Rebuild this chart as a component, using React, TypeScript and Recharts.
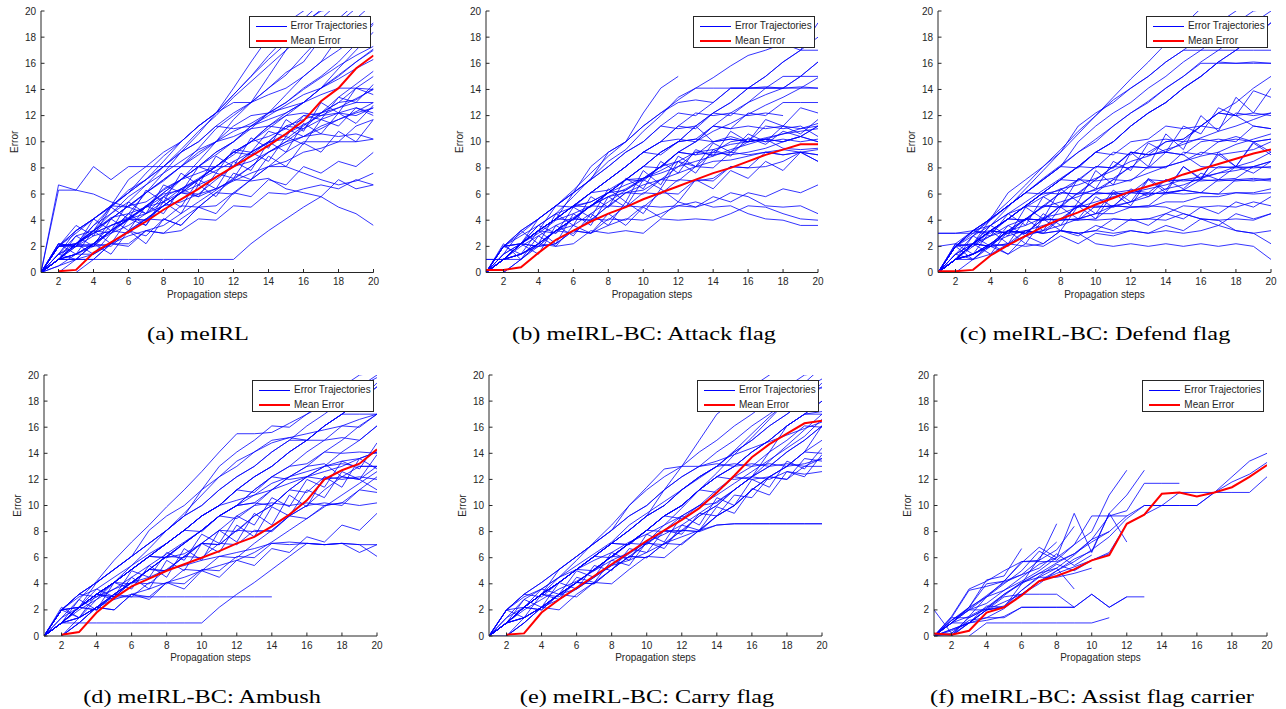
import React from 'react';
import { LineChart, Line, XAxis, YAxis, Legend } from 'recharts';

const N = null;
const steps = [1, 2, 3, 4, 5, 6, 7, 8, 9, 10, 11, 12, 13, 14, 15, 16, 17, 18, 19, 20];
const xTicks = [2, 4, 6, 8, 10, 12, 14, 16, 18, 20];
const yTicks = [0, 2, 4, 6, 8, 10, 12, 14, 16, 18, 20];
const legendLabels = ['Error Trajectories', 'Mean Error'];
const xLabel = 'Propagation steps';
const yLabel = 'Error';
const captions = [
  '(a) meIRL',
  '(b) meIRL-BC: Attack flag',
  '(c) meIRL-BC: Defend flag',
  '(d) meIRL-BC: Ambush',
  '(e) meIRL-BC: Carry flag',
  '(f) meIRL-BC: Assist flag carrier',
];

type S = (number | null)[];

// (a) meIRL
const meanA: S = [N, 0.1, 0.2, 1.5, 2.3, 3.1, 3.9, 4.8, 5.6, 6.4, 7.3, 8.1, 8.9, 9.7, 10.6, 11.6, 13.1, 14.1, 15.6, 16.6];
const trajA: S[] = [
  [0, 6.7, 6.3, 6.0, 5.4, 5.0, 4.5, 5.8, 7.1, 8.1, 9.2, 10.0, 11.2, 12.0, 12.8, 13.6, 14.1, 14.8, 15.6, 16.3],
  [0, 6.3, 6.3, 8.1, 7.1, 8.1, 8.1, 8.1, 8.1, 8.1, 9.0, 10.0, 11.0, 12.2, 13.0, 14.1, 15.0, 16.1, 17.5, 19.0],
  [0, 2.0, 2.0, 2.0, 3.2, 4.0, 5.0, 6.4, 7.1, 8.5, 10.0, 11.7, 13.0, 14.1, 15.3, 16.1, 17.9, 19.1, 20.2, 21],
  [0, 1.0, 1.0, 1.0, 1.0, 1.0, 1.0, 1.0, 1.0, 1.0, 1.0, 1.0, 2.2, 3.2, 4.1, 5.0, 5.8, 7.1, 6.4, 6.7],
  [0, 1.4, 2.2, 3.2, 4.1, 5.1, 6.1, 7.1, 8.1, 9.5, 11.0, 12.0, 13.0, 14.1, 15.1, 16.6, 18.0, 19.4, 20.6, 21],
  [0, 1.0, 2.2, 3.6, 5.0, 6.1, 7.6, 8.9, 10.0, 11.2, 12.2, 13.6, 15.0, 16.3, 17.5, 19.0, 20.1, 21, 21, 21],
  [0, 0.5, 1.4, 2.2, 3.6, 4.1, 4.5, 5.1, 5.4, 6.0, 6.4, 7.0, 7.6, 8.1, 8.1, 7.6, 7.1, 6.7, 7.0, 7.6],
  [0, 1.0, 1.4, 2.2, 2.0, 3.2, 2.8, 4.1, 3.6, 5.0, 5.1, 6.1, 7.1, 8.1, 9.2, 10.0, 10.0, 10.0, 10.0, 10.2],
  [0, 1.0, 2.2, 3.0, 3.6, 4.1, 5.1, 6.1, 7.1, 7.6, 8.1, 9.2, 10.0, 10.4, 11.0, 12.0, 12.2, 12.6, 13.0, 13.0],
  [0, 2.0, 3.2, 4.1, 5.0, 6.3, 7.1, 8.1, 9.2, 10.0, 11.2, 11.0, 11.2, 11.7, 12.2, 13.0, 14.1, 15.0, 16.1, 17.0],
  [0, 1.0, 1.4, 2.0, 2.2, 3.2, 4.1, 5.1, 6.1, 5.8, 6.4, 7.1, 7.0, 7.2, 6.4, 6.1, 5.8, 5.0, 4.5, 3.6],
  [0, 0, 1.0, 2.2, 3.2, 4.5, 6.1, 7.6, 9.2, 10.6, 12.2, 13.6, 15.0, 16.6, 18.0, 19.4, 20.6, 21, 21, 21],
  [0, 1.4, 2.0, 2.8, 3.2, 4.1, 5.1, 6.0, 6.3, 7.1, 8.1, 9.2, 10.0, 11.2, 12.0, 12.2, 12.0, 12.2, 12.6, 12.0],
  [0, 2.0, 2.2, 3.2, 4.1, 5.1, 5.4, 6.3, 7.1, 8.1, 9.2, 10.0, 11.2, 12.2, 13.6, 15.0, 16.1, 17.0, 18.0, 19.1],
  [0, 1.0, 1.0, 1.4, 2.2, 2.8, 3.2, 3.0, 4.1, 5.0, 6.1, 7.1, 8.1, 9.2, 10.0, 10.4, 11.2, 11.7, 12.2, 12.6],
  [0, 0.5, 1.0, 2.2, 3.2, 4.1, 5.0, 6.1, 7.1, 8.1, 8.1, 8.1, 9.2, 10.0, 11.2, 11.7, 12.2, 13.0, 14.1, 14.0],
  [0, 1.0, 2.2, 3.0, 4.1, 5.1, 6.1, 7.0, 8.1, 9.2, 10.0, 11.2, 12.0, 12.2, 12.6, 13.0, 13.6, 14.1, 14.1, 15.0],
  [0, 2.0, 3.0, 4.1, 5.1, 5.0, 6.1, 7.1, 8.1, 9.0, 10.0, 10.4, 11.0, 11.2, 11.0, 10.4, 10.6, 10.4, 10.6, 10.2],
  [0, 1.0, 1.0, 1.0, 2.2, 2.0, 3.2, 3.0, 3.2, 4.1, 4.0, 5.1, 5.0, 6.1, 6.0, 6.4, 6.7, 6.4, 7.1, 6.7],
  [0, 1.0, 2.2, 2.0, 3.2, 4.1, 4.0, 5.1, 6.1, 7.1, 8.1, 9.2, 10.0, 11.2, 12.2, 13.0, 14.1, 15.6, 17.0, 18.4],
  [0, 1.4, 3.2, 4.1, 5.1, 6.1, 7.1, 8.5, 10.0, 11.2, 12.2, 13.0, 13.0, 13.6, 14.1, 15.0, 16.1, 18.0, 19.4, 20.6],
  [0, 1.0, 1.4, 2.2, 3.2, 3.0, 4.1, 4.0, 5.1, 5.0, 6.1, 6.0, 7.1, 8.1, 8.5, 9.2, 9.5, 10.0, 11.2, 11.7],
  [0, 0, 0, 1.0, 2.2, 3.2, 4.1, 5.1, 6.1, 7.1, 8.1, 9.2, 9.0, 10.0, 10.2, 11.2, 12.2, 13.0, 13.2, 14.1],
  [0, 2.0, 2.2, 3.2, 3.0, 4.1, 4.0, 5.1, 6.1, 6.0, 7.1, 8.1, 9.2, 10.0, 11.2, 11.0, 11.7, 12.2, 12.0, 12.6],
  [0, 1.0, 2.2, 3.2, 5.1, 7.1, 8.1, 9.2, 10.0, 11.2, 12.2, 14.1, 16.1, 18.0, 19.1, 20.0, 21, 21, 21, 21],
  [0, 2.0, 3.2, 4.1, 5.1, 6.1, 7.1, 8.1, 9.2, 10.0, 11.2, 12.2, 13.0, 15.0, 17.0, 19.1, 20.0, 20.2, 21, 21],
  [0, 1.0, 2.0, 2.2, 3.0, 3.6, 4.5, 5.4, 6.4, 7.2, 8.1, 9.0, 10.0, 11.0, 12.0, 13.0, 14.1, 15.1, 16.1, 17.1],
  [0, 2.2, 2.0, 3.6, 4.5, 5.8, 6.7, 7.6, 8.5, 9.4, 10.0, 10.8, 11.4, 12.2, 13.0, 14.0, 14.9, 15.8, 16.6, 17.3],
  [0, 1.0, 1.4, 1.4, 2.2, 2.2, 3.2, 3.6, 4.5, 5.4, 6.3, 7.2, 8.1, 9.2, 10.0, 11.0, 12.2, 13.4, 14.4, 15.4],
  [0, 1.4, 2.8, 3.2, 4.2, 4.5, 5.0, 5.8, 6.4, 7.1, 7.8, 8.5, 9.2, 9.9, 10.6, 11.3, 12.0, 12.6, 13.3, 14.0],
  [0, 2.0, 2.2, 3.0, 3.6, 4.2, 5.0, 5.4, 6.1, 6.7, 7.3, 8.1, 8.5, 9.2, 9.8, 10.4, 11.0, 11.7, 12.3, 13.0],
  [0, 1.0, 2.0, 3.2, 4.5, 5.4, 6.7, 8.1, 9.4, 10.8, 12.0, 13.4, 14.6, 15.8, 17.0, 18.2, 19.4, 20.6, 21, 21],
  [0, 2.2, 1.4, 3.2, 2.2, 4.1, 3.6, 5.4, 4.5, 6.7, 5.8, 7.6, 7.1, 8.9, 8.1, 9.9, 9.2, 10.8, 10.0, 11.7],
  [0, 1.0, 2.8, 2.0, 4.1, 3.2, 5.1, 4.5, 6.4, 5.8, 7.6, 7.2, 9.2, 8.5, 10.4, 9.8, 11.7, 11.2, 12.6, 12.2],
  [0, 1.4, 1.0, 2.2, 1.4, 3.2, 2.2, 4.1, 3.6, 5.0, 4.5, 6.1, 5.8, 7.1, 6.7, 8.1, 7.6, 8.5, 8.1, 9.2],
  [0, 2.0, 3.6, 2.8, 5.0, 4.1, 6.3, 5.4, 7.6, 6.7, 8.9, 8.1, 10.3, 9.5, 11.7, 10.8, 13.0, 12.2, 14.1, 13.6],
  [0, 1.0, 2.2, 1.4, 3.0, 4.5, 3.6, 5.8, 5.0, 7.1, 6.4, 8.5, 7.8, 10.0, 9.2, 11.4, 10.6, 12.2, 11.4, 12.8],
  [0, 2.2, 2.0, 4.1, 3.2, 5.4, 4.5, 6.7, 6.1, 8.1, 7.6, 9.4, 9.2, 10.8, 10.4, 12.0, 11.7, 13.4, 13.0, 14.4],
];

// (b) Attack flag
const meanB: S = [0.2, 0.2, 0.4, 1.5, 2.5, 3.2, 3.9, 4.5, 5.0, 5.6, 6.1, 6.6, 7.1, 7.6, 8.0, 8.5, 9.0, 9.4, 9.8, 9.8];
const trajB: S[] = [
  [0, 1.0, 2.2, 3.2, 4.1, 5.1, 6.1, 7.1, 8.1, 9.2, 10.0, 11.2, 11.0, 12.2, 12.0, 13.0, 13.6, 14.1, 14.1, 14.1],
  [0, 1.0, 1.4, 2.2, 3.2, 4.1, 5.1, 6.1, 7.1, 8.1, 9.2, 10.0, 10.2, 10.0, 10.4, 10.0, 10.2, 10.0, 10.4, 10.0],
  [0, 2.0, 2.2, 3.2, 4.1, 5.1, 6.1, 6.3, 7.1, 7.2, 8.1, 8.5, 8.1, 9.2, 9.0, 9.2, 9.5, 10.0, 10.4, 11.2],
  [1, 1.0, 1.0, 2.0, 2.2, 3.2, 3.0, 4.1, 4.0, 5.1, 5.0, 5.1, 5.4, 5.0, 5.1, 4.5, 4.1, 4.0, 3.6, 3.6],
  [0, 1.0, 2.2, 3.2, 5.1, 6.1, 7.1, 9.2, 10.0, 11.2, 12.2, 13.0, 13.2, 13.0, 14.1, 14.1, 14.2, 14.1, 15.0, 16.1],
  [0, 0, 1.0, 2.2, 3.2, 4.1, 5.1, 6.1, 7.1, 8.1, 9.2, 10.0, 11.2, 12.2, 13.0, 14.1, 15.0, 16.1, 17.0, 19.1],
  [0, 1.0, 2.2, 2.0, 3.2, 3.0, 4.1, 4.0, 5.1, 5.0, 6.1, 6.0, 7.1, 7.0, 8.1, 8.0, 9.2, 9.0, 9.2, 8.5],
  [0, 2.0, 3.2, 4.1, 5.1, 6.1, 7.1, 8.1, 9.2, 10.0, 11.2, 11.0, 11.2, 10.0, 10.2, 10.0, 11.2, 11.0, 11.2, 10.4],
  [0, 1.0, 1.4, 2.0, 2.2, 3.2, 3.0, 3.6, 4.1, 4.0, 4.5, 5.1, 5.0, 5.4, 6.1, 5.8, 5.1, 5.0, 5.1, 4.5],
  [0, 1.0, 2.2, 3.2, 4.1, 4.0, 5.1, 5.0, 6.1, 6.3, 7.1, 8.1, 9.2, 9.0, 9.2, 10.0, 10.2, 10.0, 10.4, 10.0],
  [0, 2.0, 2.2, 3.2, 4.1, 5.1, 5.4, 6.1, 7.1, 8.1, 9.2, 10.0, 11.2, 12.2, 13.0, 14.1, 14.1, 15.0, 15.0, 16.1],
  [0, 1.0, 2.2, 3.2, 4.1, 6.1, 8.1, 9.2, 10.0, 12.2, 14.1, 15.0],
  [0, 1.0, 1.4, 2.2, 3.2, 4.1, 4.0, 5.1, 6.1, 6.0, 7.1, 7.0, 8.1, 8.0, 9.2, 9.0, 9.2, 9.0, 9.2, 9.0],
  [0, 0, 1.0, 2.2, 3.2, 4.1, 5.1, 6.1, 6.3, 7.1, 8.1, 9.2, 10.0, 11.2, 11.0, 12.2, 12.0, 13.0, 13.0, 13.0],
  [0, 1.0, 2.2, 2.0, 3.2, 4.1, 4.0, 5.1, 5.0, 6.1, 6.0, 7.1, 7.0, 7.2, 8.1, 8.0, 8.1, 8.5, 9.2, 9.0],
  [0, 2.0, 3.2, 4.1, 5.1, 5.0, 6.1, 7.1, 8.1, 9.2, 10.0, 10.2, 10.0, 11.2, 11.0, 11.2, 11.0, 11.2, 11.0, 11.2],
  [0, 1.0, 2.2, 3.2, 4.1, 5.1, 6.1, 7.1, 8.1, 9.2, 10.0, 11.2, 12.2, 12.0, 12.2, 12.0, 12.2, 12.0],
  [0, 1.0, 1.4, 2.2, 2.0, 2.2, 3.2, 3.0, 3.2, 3.0, 4.1, 4.0, 4.1, 4.0, 4.5, 5.1, 5.0, 4.5, 4.1, 4.0],
  [0, 1.0, 2.2, 4.1, 5.1, 6.1, 7.1, 8.1, 9.2, 10.0, 11.2, 12.2, 12.0, 13.0, 14.1, 14.1, 15.0, 16.1, 17.0, 18.0],
  [0, 1.0, 2.2, 3.2, 3.0, 4.1, 5.1, 6.1, 7.1, 8.1, 8.0, 9.2, 9.0, 10.0, 10.2, 10.0, 10.2, 9.5, 9.4, 9.5],
  [0, 2.0, 2.2, 3.2, 4.1, 5.1, 6.1, 7.1, 8.1, 9.2, 9.0, 10.0, 10.2, 11.2, 12.2, 13.0, 14.1, 14.1, 15.0, 15.0],
  [1, 1.0, 2.2, 3.2, 4.1, 5.1, 5.0, 6.1, 7.1, 7.0, 8.1, 9.2, 9.0, 9.2, 10.0, 10.2, 10.0, 10.2, 10.0, 10.2],
  [0, 1.4, 2.2, 3.6, 4.5, 5.8, 7.2, 8.5, 9.4, 10.8, 12.0, 13.4, 14.1, 14.1, 14.1, 14.1, 14.1, 14.1, 14.2, 14.1],
  [0, 1.0, 2.0, 2.8, 3.6, 4.2, 5.1, 5.8, 6.4, 7.2, 7.8, 8.5, 9.2, 9.4, 9.8, 10.0, 10.3, 10.6, 10.8, 11.0],
  [0, 2.0, 2.8, 3.6, 4.5, 5.0, 5.4, 6.1, 6.7, 7.2, 7.6, 8.1, 8.5, 8.9, 9.4, 9.8, 10.2, 10.6, 11.0, 11.4],
  [0, 1.0, 1.4, 2.2, 3.2, 3.6, 4.5, 5.4, 6.3, 7.2, 8.1, 9.2, 10.0, 10.8, 11.4, 12.1, 12.8, 13.4, 14.1, 14.9],
  [0, 1.0, 2.2, 3.0, 4.0, 4.5, 5.1, 5.8, 6.1, 6.7, 7.1, 7.6, 8.1, 8.5, 8.6, 8.9, 9.2, 9.4, 9.2, 9.4],
  [0, 2.0, 3.0, 4.1, 5.1, 6.3, 7.6, 8.9, 10.0, 11.2, 12.2, 13.2, 14.1, 14.9, 15.8, 16.6, 17.0, 17.5, 17.0, 17.0],
  [0, 1.4, 2.2, 1.4, 3.6, 2.8, 4.5, 3.6, 5.4, 4.5, 6.4, 5.4, 7.1, 6.4, 7.8, 7.2, 8.5, 7.8, 9.2, 8.5],
  [0, 2.0, 1.4, 3.2, 2.2, 4.5, 3.6, 5.8, 5.0, 7.1, 6.4, 8.5, 7.6, 9.4, 8.9, 10.3, 9.8, 10.8, 10.4, 11.2],
  [0, 1.0, 2.2, 3.6, 3.0, 5.0, 4.2, 6.4, 5.4, 7.8, 6.7, 8.9, 8.1, 9.9, 9.2, 10.6, 10.0, 11.2, 10.6, 11.7],
  [0, 2.2, 1.0, 2.8, 2.0, 3.6, 3.0, 4.5, 3.6, 5.0, 4.2, 5.4, 5.0, 5.8, 5.4, 6.1, 5.8, 6.4, 6.1, 6.7],
  [0, 1.4, 3.2, 2.2, 4.5, 3.6, 5.8, 5.0, 7.2, 6.4, 8.5, 7.6, 9.4, 8.9, 10.8, 10.0, 11.7, 11.2, 12.6, 12.2],
];

// (c) Defend flag
const meanC: S = [0.1, 0.1, 0.2, 1.3, 2.1, 2.8, 3.5, 4.1, 4.6, 5.2, 5.7, 6.2, 6.6, 7.0, 7.5, 7.9, 8.3, 8.7, 9.1, 9.4];
const trajC: S[] = [
  [0, 1.0, 2.2, 3.2, 4.1, 5.1, 6.1, 7.1, 8.1, 9.2, 10.0, 11.2, 12.2, 13.0, 14.1, 15.0, 16.1, 17.0, 18.0, 19.1],
  [0, 2.0, 3.2, 4.1, 5.1, 6.1, 7.1, 8.1, 9.2, 10.0, 11.2, 12.2, 13.0, 14.1, 15.0, 16.1, 17.0, 18.0, 19.1, 20.0],
  [0, 1.0, 1.4, 2.0, 2.2, 3.2, 3.0, 3.2, 3.0, 3.2, 3.0, 3.2, 3.0, 3.2, 3.0, 3.2, 3.6, 3.2, 3.0, 3.2],
  [0, 1.0, 2.2, 2.0, 3.2, 3.0, 4.1, 4.0, 5.1, 5.0, 5.1, 6.1, 6.0, 6.1, 6.3, 7.1, 7.0, 7.1, 7.2, 7.1],
  [0, 2.0, 2.2, 3.2, 4.1, 4.0, 5.1, 6.1, 6.0, 7.1, 8.1, 8.0, 9.2, 10.0, 10.2, 11.2, 12.2, 12.0, 12.2, 12.0],
  [0, 1.0, 1.4, 2.2, 3.2, 4.1, 5.1, 5.0, 6.1, 6.0, 6.1, 6.3, 6.1, 7.1, 7.0, 7.1, 8.1, 8.0, 8.1, 8.5],
  [0, 2.0, 3.2, 4.1, 6.1, 7.1, 8.1, 9.2, 11.2, 12.2, 13.0, 14.1, 15.0, 16.1, 17.0, 18.0, 19.1, 20.0, 21, 21],
  [0, 1.0, 2.2, 3.2, 3.0, 4.1, 4.0, 4.1, 5.1, 5.0, 5.1, 5.0, 5.1, 5.0, 4.5, 4.1, 4.0, 3.2, 3.0, 2.2],
  [0, 2.0, 2.2, 2.0, 3.2, 3.0, 4.1, 5.1, 5.0, 6.1, 7.1, 8.1, 8.0, 9.2, 10.0, 11.2, 12.2, 13.0, 14.1, 15.0],
  [0, 1.0, 2.2, 3.2, 4.1, 5.1, 6.1, 6.0, 7.1, 8.1, 8.0, 9.2, 9.0, 10.0, 10.2, 11.2, 11.0, 12.2, 12.0, 12.2],
  [0, 2.0, 3.2, 3.0, 4.1, 5.1, 6.1, 7.1, 8.1, 8.0, 9.2, 9.0, 10.0, 10.2, 10.0, 10.2, 10.0, 10.4, 10.0, 10.2],
  [0, 1.0, 1.0, 1.4, 2.2, 2.0, 2.2, 3.2, 3.0, 3.2, 4.1, 4.0, 4.1, 4.5, 5.1, 5.0, 5.1, 5.0, 5.4, 5.1],
  [0, 1.0, 2.2, 3.2, 4.1, 5.1, 6.1, 7.1, 8.1, 9.2, 10.0, 11.2, 12.2, 13.0, 14.1, 15.0, 16.1, 16.0, 16.1, 16.0],
  [3, 3.0, 3.0, 3.2, 3.0, 4.1, 4.0, 5.1, 5.0, 6.1, 6.0, 6.1, 7.1, 7.0, 7.1, 7.0, 7.1, 7.2, 8.1, 8.0],
  [0, 1.0, 2.2, 3.2, 4.1, 4.0, 5.1, 5.0, 5.1, 6.1, 6.0, 6.1, 6.0, 6.1, 6.3, 6.1, 6.0, 6.1, 6.0, 6.1],
  [0, 2.0, 3.2, 4.1, 5.1, 6.1, 7.1, 8.1, 8.0, 9.2, 9.0, 10.0, 10.2, 11.2, 11.0, 11.2, 12.2, 12.0, 11.2, 11.0],
  [0, 1.0, 1.4, 2.2, 3.2, 3.0, 4.1, 4.0, 4.1, 4.0, 4.1, 4.0, 4.1, 4.0, 4.5, 4.1, 4.0, 4.1, 4.0, 4.5],
  [3, 3.0, 3.2, 3.6, 4.5, 5.4, 6.3, 7.2, 8.1, 9.2, 10.0, 11.2, 12.2, 13.0, 14.1, 15.0, 16.1, 17.0, 18.0, 19.1],
  [0, 0, 1.0, 2.2, 3.2, 4.1, 4.0, 5.1, 6.1, 7.1, 8.1, 9.2, 9.0, 9.2, 9.0, 10.0, 10.2, 10.0, 11.2, 11.0],
  [0, 1.0, 2.2, 2.0, 3.2, 3.0, 3.2, 4.1, 4.0, 4.1, 5.1, 5.0, 5.1, 6.1, 6.0, 6.1, 7.1, 7.0, 7.1, 7.0],
  [2, 2.2, 2.0, 3.2, 3.0, 3.2, 3.0, 3.2, 3.0, 2.2, 2.0, 2.2, 2.0, 2.2, 2.0, 2.2, 2.0, 2.2, 2.0, 1.0],
  [0, 1.0, 2.2, 3.2, 4.1, 5.1, 6.1, 7.1, 7.0, 8.1, 8.0, 9.2, 9.0, 9.2, 9.0, 8.1, 8.0, 8.1, 8.0, 8.1],
  [0, 1.0, 2.2, 4.1, 5.1, 6.1, 7.1, 8.1, 10.0, 11.2, 12.2, 13.0, 14.1, 15.0, 16.1, 17.0, 18.0, 19.1, 20.0, 20.2],
  [0, 2.0, 3.2, 4.1, 5.1, 6.1, 6.0, 6.3, 7.1, 7.0, 7.2, 8.1, 8.0, 8.1, 8.5, 9.2, 9.0, 9.2, 9.4, 10.0],
  [0, 1.0, 1.4, 2.2, 2.0, 3.2, 3.0, 4.1, 4.0, 5.1, 5.0, 5.4, 6.1, 6.0, 6.3, 6.1, 6.0, 7.1, 7.0, 7.2],
  [0, 1.0, 2.2, 3.2, 4.1, 5.1, 5.0, 6.1, 6.0, 6.3, 7.1, 7.0, 8.1, 8.0, 9.2, 9.0, 10.0, 10.2, 10.0, 10.2],
  [0, 1.4, 2.8, 4.2, 5.4, 6.7, 8.1, 9.4, 10.8, 12.0, 13.2, 14.1, 15.0, 16.1, 17.0, 17.0, 17.0, 17.0, 17.0, 17.0],
  [0, 2.0, 2.8, 3.6, 4.5, 5.0, 5.8, 6.4, 6.7, 7.2, 7.8, 8.5, 8.9, 9.4, 9.8, 10.3, 10.8, 11.2, 11.7, 12.2],
  [0, 1.0, 2.0, 2.8, 3.2, 3.6, 4.2, 4.5, 5.0, 5.4, 5.8, 6.1, 6.4, 6.7, 7.1, 7.3, 7.6, 7.8, 8.1, 8.5],
  [0, 1.0, 1.4, 2.2, 2.8, 3.2, 3.6, 4.0, 4.1, 4.5, 4.5, 5.0, 5.0, 5.4, 5.4, 5.8, 5.8, 6.1, 6.1, 6.4],
  [0, 2.0, 3.0, 4.0, 5.1, 6.1, 7.2, 8.2, 9.2, 10.2, 11.2, 12.2, 13.1, 14.1, 15.0, 16.0, 16.0, 16.0, 16.0, 16.0],
  [0, 1.0, 2.2, 3.6, 5.0, 6.4, 7.8, 9.2, 10.6, 12.0, 13.4, 14.8, 16.1, 17.5, 18.9, 20.2, 21, 21, 21, 21],
  [0, 1.4, 2.2, 2.8, 3.6, 4.1, 5.0, 5.4, 5.8, 6.4, 6.7, 7.1, 7.6, 8.1, 8.5, 8.9, 9.2, 9.8, 10.2, 10.6],
  [0, 1.0, 1.4, 2.0, 2.2, 2.8, 3.2, 3.6, 4.1, 4.5, 5.1, 5.4, 5.8, 6.4, 6.7, 7.2, 7.6, 8.1, 8.5, 9.2],
  [0, 2.2, 1.4, 3.2, 2.2, 4.1, 3.2, 5.0, 4.1, 5.8, 5.0, 6.4, 5.8, 7.1, 6.4, 7.6, 7.1, 8.1, 7.6, 8.5],
  [0, 1.0, 2.8, 2.0, 3.6, 2.8, 4.5, 3.6, 5.4, 4.5, 6.3, 5.4, 7.2, 6.3, 8.1, 7.2, 9.0, 8.1, 9.9, 9.0],
  [0, 1.4, 2.2, 3.6, 2.8, 5.0, 4.1, 6.4, 5.4, 7.8, 6.7, 9.2, 8.1, 10.6, 9.4, 12.0, 10.8, 13.4, 12.2, 14.1],
  [0, 2.0, 1.0, 2.2, 1.4, 2.8, 2.2, 3.2, 2.8, 3.6, 3.2, 4.1, 3.6, 4.5, 4.1, 5.0, 4.5, 5.4, 5.0, 5.8],
  [0, 1.0, 2.2, 1.4, 3.2, 2.2, 4.1, 3.2, 5.1, 4.1, 6.1, 5.1, 7.1, 6.1, 8.1, 7.1, 9.2, 8.1, 10.0, 9.2],
  [0, 2.2, 3.2, 2.8, 4.5, 3.6, 5.8, 5.0, 7.2, 6.4, 8.5, 7.8, 9.9, 9.2, 11.2, 10.6, 12.6, 12.0, 13.9, 13.4],
  [0, 1.4, 1.0, 2.0, 1.4, 2.2, 2.0, 2.8, 2.2, 3.0, 2.8, 3.2, 3.0, 3.6, 3.2, 4.1, 3.6, 4.5, 4.1, 4.5],
];

// (d) Ambush
const meanD: S = [N, 0.1, 0.3, 1.8, 2.9, 3.8, 4.4, 5.0, 5.5, 6.0, 6.5, 7.1, 7.6, 8.4, 9.3, 10.4, 12.0, 12.7, 13.2, 14.3];
const trajD: S[] = [
  [0, 1.0, 2.2, 3.2, 4.1, 5.1, 6.1, 7.1, 8.1, 9.2, 10.0, 11.2, 12.2, 13.0, 14.1, 15.0, 16.1, 17.0, 18.0, 19.1],
  [0, 2.0, 3.2, 4.1, 5.1, 6.1, 7.1, 8.1, 9.2, 10.0, 11.2, 12.2, 13.0, 14.1, 15.0, 15.0, 15.0, 15.2, 15.0, 16.1],
  [N, 0, 1.0, 2.2, 3.0, 3.0, 3.0, 3.0, 3.0, 3.0, 3.0, 3.0, 3.0, 3.0],
  [0, 1.0, 1.0, 1.0, 1.0, 1.0, 1.0, 1.0, 1.0, 1.0, 2.2, 3.2, 4.1, 5.1, 6.1, 7.1, 7.0, 7.1, 6.4, 7.0],
  [0, 1.0, 2.2, 3.2, 4.1, 5.1, 6.1, 7.1, 8.1, 9.2, 10.0, 11.2, 12.2, 13.0, 14.1, 15.0, 16.1, 17.0, 18.0, 19.4],
  [0, 2.0, 2.2, 3.2, 4.1, 5.1, 6.1, 6.0, 7.1, 8.1, 9.2, 10.0, 11.2, 12.2, 13.0, 13.2, 14.1, 14.0, 14.1, 14.0],
  [N, 0, 1.0, 2.2, 3.2, 4.1, 5.1, 6.1, 7.1, 8.1, 9.2, 10.0, 10.2, 10.0, 11.2, 11.0, 12.2, 12.0, 12.2, 12.0],
  [0, 1.0, 2.2, 3.2, 3.0, 4.1, 5.1, 5.0, 6.1, 7.1, 7.0, 8.1, 9.2, 10.0, 11.2, 12.2, 13.0, 13.2, 13.0, 13.0],
  [0, 2.0, 3.2, 4.1, 5.1, 6.1, 8.1, 9.2, 10.0, 11.2, 12.2, 13.0, 14.1, 15.0, 15.2, 15.0, 16.1, 17.0, 18.0, 19.1],
  [0, 1.0, 2.2, 2.0, 3.2, 3.0, 4.1, 4.0, 5.1, 5.0, 6.1, 6.0, 7.1, 8.1, 9.2, 10.0, 10.2, 10.0, 11.2, 11.0],
  [0, 1.0, 2.2, 3.2, 4.1, 5.1, 6.1, 7.1, 8.1, 8.0, 9.2, 10.0, 10.2, 11.2, 12.2, 13.0, 14.1, 15.0, 16.1, 17.0],
  [0, 1.0, 1.4, 2.2, 2.0, 3.2, 3.0, 4.1, 4.0, 5.1, 5.0, 6.1, 6.0, 7.1, 7.0, 7.1, 7.0, 7.1, 7.0, 6.1],
  [0, 2.0, 3.2, 4.1, 5.1, 6.1, 7.1, 8.1, 9.2, 11.2, 13.0, 14.1, 15.0, 16.1, 16.0, 17.0, 18.0, 19.1, 20.0, 20.2],
  [N, 0, 1.0, 2.2, 3.2, 4.1, 4.0, 5.1, 6.1, 7.1, 8.1, 9.2, 10.0, 11.2, 12.2, 13.0, 13.2, 12.2, 12.0, 11.2],
  [0, 1.0, 2.2, 3.2, 4.1, 4.0, 5.1, 6.1, 6.0, 7.1, 8.1, 8.0, 9.2, 10.0, 11.2, 12.2, 13.0, 14.1, 15.0, 16.1],
  [0, 1.0, 2.2, 3.2, 4.1, 5.1, 6.1, 7.1, 8.1, 9.2, 10.0, 11.2, 12.2, 13.0, 14.1, 15.0, 16.1, 17.0, 17.0, 17.0],
  [0, 2.0, 3.2, 3.0, 4.1, 5.1, 6.1, 7.1, 8.1, 9.2, 10.0, 11.2, 11.0, 12.2, 12.0, 12.2, 12.0, 12.2, 13.0, 13.0],
  [0, 1.0, 2.2, 4.1, 5.1, 6.1, 7.1, 8.1, 9.2, 10.0, 11.2, 12.2, 13.0, 14.1, 15.0, 16.1, 17.0, 18.0, 19.1, 20.0],
  [0, 1.0, 1.4, 2.2, 3.2, 4.1, 5.1, 6.1, 7.1, 8.1, 9.2, 9.0, 10.0, 10.2, 10.0, 10.2, 10.0, 10.2, 10.0, 10.2],
  [0, 2.0, 2.2, 3.2, 3.0, 4.1, 5.1, 6.1, 7.1, 8.1, 9.2, 10.0, 11.2, 12.2, 13.0, 14.1, 15.0, 16.1, 16.0, 17.0],
  [0, 1.0, 2.2, 3.2, 4.1, 5.1, 6.1, 6.0, 6.3, 7.1, 7.0, 8.1, 8.0, 8.1, 9.2, 9.0, 10.0, 10.2, 11.2, 12.2],
  [0, 1.0, 2.2, 2.0, 3.2, 4.1, 5.1, 5.0, 6.1, 6.0, 7.1, 7.0, 8.1, 8.0, 9.2, 10.0, 11.2, 12.2, 12.0, 13.0],
  [0, 1.4, 2.8, 4.2, 5.8, 7.2, 8.5, 9.9, 11.2, 12.6, 14.1, 15.5, 15.5, 15.6, 16.3, 17.0, 17.7, 18.4, 19.1, 19.8],
  [0, 1.0, 2.0, 2.8, 3.6, 4.5, 5.4, 6.3, 7.2, 8.1, 9.2, 10.0, 10.8, 11.7, 12.2, 12.6, 13.0, 13.4, 13.6, 14.1],
  [0, 2.0, 2.2, 3.0, 3.6, 4.1, 4.5, 5.1, 5.4, 5.8, 6.1, 6.4, 6.7, 7.1, 7.2, 7.1, 7.0, 7.1, 7.0, 7.0],
  [N, 0, 1.4, 2.8, 4.1, 5.4, 6.7, 8.1, 9.4, 10.8, 12.2, 13.4, 14.1, 14.8, 15.2, 15.5, 15.8, 16.1, 16.6, 17.0],
  [0, 1.0, 1.4, 2.2, 2.8, 3.2, 3.6, 4.1, 4.5, 5.0, 5.4, 5.8, 6.4, 7.2, 8.1, 9.0, 9.9, 10.8, 11.7, 12.6],
  [0, 2.0, 3.0, 3.6, 4.5, 5.4, 6.3, 7.1, 8.1, 9.2, 10.0, 10.4, 10.8, 11.2, 11.7, 12.2, 12.6, 13.0, 13.6, 14.1],
  [0, 2.2, 1.4, 3.2, 2.8, 4.5, 3.6, 5.8, 5.0, 7.1, 6.4, 8.5, 7.6, 9.9, 9.2, 11.2, 10.6, 12.6, 12.0, 13.9],
  [0, 1.0, 2.8, 2.0, 4.1, 3.6, 5.4, 4.5, 6.7, 5.8, 8.1, 7.2, 9.4, 8.5, 10.8, 9.9, 12.2, 11.4, 13.6, 12.8],
  [0, 1.4, 2.2, 3.6, 3.0, 5.0, 4.5, 6.4, 5.8, 7.8, 7.1, 9.2, 8.5, 10.6, 9.9, 12.0, 11.4, 13.4, 12.8, 14.8],
  [0, 2.0, 1.4, 2.2, 2.0, 3.2, 2.8, 4.1, 3.6, 5.0, 4.5, 5.8, 5.4, 6.7, 6.4, 7.6, 7.2, 8.5, 8.1, 9.4],
];

// (e) Carry flag
const meanE: S = [N, 0.1, 0.2, 1.8, 2.8, 3.7, 4.6, 5.5, 6.4, 7.3, 8.1, 8.9, 9.8, 11.0, 12.3, 13.7, 14.7, 15.5, 16.3, 16.5];
const trajE: S[] = [
  [0, 1.0, 2.2, 3.2, 4.1, 5.1, 6.1, 7.1, 8.1, 9.2, 10.0, 11.2, 12.2, 13.0, 14.1, 15.0, 16.1, 17.0, 18.0, 19.1],
  [0, 1.0, 2.2, 3.2, 4.1, 5.1, 6.1, 7.1, 7.0, 8.1, 8.0, 8.1, 8.0, 8.5, 8.6, 8.6, 8.6, 8.6, 8.6, 8.6],
  [0, 2.0, 3.2, 4.1, 5.1, 6.1, 7.1, 8.1, 9.2, 10.0, 11.2, 13.0, 15.0, 17.0, 18.0, 19.1, 20.0, 21, 21, 21],
  [0, 1.0, 1.4, 2.2, 3.2, 4.1, 5.1, 6.1, 7.1, 8.1, 9.2, 10.0, 11.2, 12.2, 13.0, 14.1, 15.0, 16.1, 17.0, 18.0],
  [N, 0, 1.0, 2.2, 3.2, 4.1, 4.0, 5.1, 6.1, 7.1, 8.1, 9.2, 10.0, 11.2, 12.2, 12.0, 12.2, 12.0, 13.0, 13.6],
  [0, 1.0, 2.2, 3.2, 4.1, 5.1, 6.1, 6.0, 7.1, 8.1, 9.2, 10.0, 11.2, 12.2, 12.0, 12.2, 12.0, 12.6, 12.4, 12.6],
  [0, 2.0, 3.2, 4.1, 5.1, 6.1, 7.1, 8.1, 10.0, 11.2, 12.2, 13.0, 14.1, 15.0, 16.1, 17.0, 18.0, 19.1, 20.0, 20.2],
  [0, 1.0, 2.2, 2.0, 3.2, 4.1, 4.0, 5.1, 6.1, 6.0, 7.1, 8.1, 9.2, 10.0, 11.2, 12.2, 13.0, 14.1, 15.0, 16.1],
  [0, 1.0, 2.2, 3.2, 3.0, 4.1, 5.1, 6.1, 6.0, 7.1, 7.0, 8.1, 8.0, 9.2, 10.0, 11.2, 12.2, 13.0, 14.1, 15.0],
  [N, 0, 1.0, 2.2, 3.2, 4.1, 5.1, 6.1, 7.1, 8.1, 9.2, 10.0, 11.2, 12.2, 13.0, 14.1, 15.0, 16.1, 17.0, 18.0],
  [0, 1.0, 2.2, 3.2, 4.1, 5.1, 6.1, 7.1, 8.1, 9.2, 10.0, 11.2, 12.2, 13.0, 13.2, 13.0, 13.2, 13.0, 13.2, 13.6],
  [0, 2.0, 2.2, 3.2, 4.1, 5.1, 6.1, 7.1, 8.1, 9.2, 11.2, 12.2, 13.0, 14.1, 15.0, 16.1, 17.0, 18.0, 19.1, 19.0],
  [0, 1.0, 1.4, 2.2, 2.0, 3.2, 4.1, 4.0, 5.1, 6.1, 6.0, 7.1, 8.1, 9.2, 10.0, 11.2, 12.2, 13.0, 14.1, 16.1],
  [0, 1.0, 2.2, 3.2, 4.1, 5.1, 5.0, 6.1, 7.1, 8.1, 9.2, 9.0, 10.0, 10.2, 11.2, 12.2, 14.1, 16.1, 17.0, 17.0],
  [0, 1.0, 2.2, 2.0, 3.2, 4.1, 5.1, 6.1, 7.1, 8.1, 9.2, 10.0, 11.2, 12.2, 13.0, 14.1, 15.0, 16.1, 17.0, 17.2],
  [0, 2.0, 3.2, 3.0, 4.1, 5.1, 6.1, 7.1, 7.0, 8.1, 9.2, 10.0, 11.2, 11.0, 12.2, 13.0, 14.1, 15.0, 16.1, 16.0],
  [0, 1.0, 1.4, 2.2, 3.2, 3.0, 4.1, 5.1, 6.1, 6.0, 7.1, 7.0, 8.1, 9.2, 10.0, 11.2, 12.2, 13.0, 14.1, 14.0],
  [0, 1.0, 2.2, 3.2, 4.1, 5.1, 6.1, 7.1, 8.1, 9.2, 10.0, 11.2, 12.2, 13.0, 14.1, 15.0, 16.1, 17.0, 18.0, 19.4],
  [0, 0, 1.0, 2.2, 3.2, 4.1, 5.1, 6.1, 7.1, 7.0, 8.1, 8.0, 9.2, 10.0, 11.2, 12.2, 13.0, 14.1, 15.0, 16.1],
  [0, 1.0, 2.2, 3.2, 5.1, 6.1, 7.1, 8.1, 9.2, 10.0, 11.2, 12.2, 13.0, 13.2, 13.0, 13.2, 13.0, 13.2, 13.0, 13.0],
  [0, 1.4, 2.8, 3.6, 4.5, 5.4, 6.3, 7.2, 8.5, 9.4, 10.3, 11.2, 12.1, 13.0, 14.2, 15.5, 16.8, 17.9, 18.9, 19.7],
  [0, 1.0, 2.0, 2.8, 3.6, 4.2, 5.0, 5.8, 6.4, 7.2, 7.8, 8.5, 9.4, 10.3, 11.2, 12.2, 13.4, 14.6, 15.8, 17.0],
  [0, 2.0, 3.0, 3.6, 4.5, 5.1, 5.8, 6.4, 7.2, 7.8, 8.5, 9.2, 10.0, 10.8, 11.7, 12.6, 13.5, 14.4, 15.3, 16.6],
  [N, 0, 1.4, 2.2, 3.2, 3.6, 4.5, 5.4, 5.8, 6.4, 7.1, 7.6, 8.1, 8.5, 8.6, 8.6, 8.6, 8.6, 8.6, 8.6],
  [0, 1.0, 1.4, 2.2, 2.8, 3.6, 4.5, 5.4, 6.3, 7.2, 8.5, 9.8, 11.2, 12.5, 13.9, 15.2, 16.6, 18.0, 19.4, 20.6],
  [0, 1.0, 2.2, 3.2, 4.5, 5.8, 7.2, 8.5, 10.0, 11.4, 12.8, 13.0, 13.0, 13.4, 13.9, 14.4, 14.9, 15.4, 15.9, 16.4],
  [0, 1.4, 2.2, 3.6, 3.2, 5.0, 4.5, 6.4, 5.8, 7.8, 7.2, 9.2, 8.5, 10.6, 10.0, 12.0, 11.4, 13.4, 12.8, 14.4],
  [0, 2.0, 1.4, 3.2, 2.8, 4.5, 4.1, 5.8, 5.4, 7.2, 6.7, 8.5, 8.1, 9.9, 9.4, 11.3, 10.8, 12.6, 12.2, 13.9],
  [0, 1.0, 2.8, 2.2, 4.1, 3.6, 5.4, 5.0, 6.7, 6.4, 8.1, 7.8, 9.4, 9.2, 10.8, 10.6, 12.2, 12.0, 13.6, 13.4],
];

// (f) Assist flag carrier
const meanF: S = [0.2, 0.1, 0.4, 1.8, 2.2, 3.1, 4.2, 4.6, 5.1, 5.8, 6.2, 8.6, 9.3, 10.9, 11.0, 10.7, 11.0, 11.4, 12.2, 13.1];
const trajF: S[] = [
  [2, 0.2, 1.2, 1.4, 1.4, 2.2, 2.2, 2.2, 2.2, 3.2, 2.2, 3, 3],
  [N, N, 0, 1, 1, 1, 1, 1, 1, 1, 1.4],
  [0, 1, 2.2, 4.3, 4.6, 6.7],
  [0, 1.5, 3.6, 4.2, 5, 5.7, 5.8, 8.6],
  [0, 1, 2, 2.5, 3.5, 4.5, 5.5, 6, 9.4, 6.4, 9.4, 10.8, 12.7],
  [0, 1.2, 2.2, 3, 4, 5, 6.5, 5.8, 7, 9.2, 9.2, 9.2],
  [0, 1, 2, 3, 3.5, 4.2, 5, 6, 7, 8, 10.8, 12.7],
  [0.2, 0.1, 1, 2, 2.6, 3.2, 4, 5, 5.7, 6.6, 7.6, 9, 10, 10, 10, 10, 11, 12.2, 13.4, 14],
  [0, 0.2, 1.4, 2.1, 3.1, 4.1, 4.8, 5.6, 6.3, 7.2, 8, 9.2, 10, 10, 11, 11, 11, 11, 11, 12.2],
  [0, 0, 1, 2, 2.2, 3.2, 4.2, 4.8, 5.3, 5.8, 6.4, 8.6, 9.3, 10, 10, 10, 11, 11.8, 12.4, 13.3],
  [0, 1, 1.5, 2.2, 3.2, 4, 4.8, 5.2, 6.2, 7.4, 9.2, 9.6, 11.7, 11.7, 11.7],
  [0, 0.4, 1, 2, 2.2, 3.5, 4.6, 5.5, 5, 5.8, 6.3],
  [0, 0.5, 1, 2, 2.3, 3.5, 4.5, 5.2, 3.6],
  [N, 0, 1, 1.4, 2.1, 3.2, 4.2, 5, 5.9, 6.5, 9.4, 7.2],
  [0, 1, 1, 1.2, 1.5, 2.2, 2.2, 2.2, 2.2],
  [0, 1.4, 1.4, 2.1, 3.2, 4.1, 4.5, 4.5, 4.8, 5.2],
  [0, 1.2, 2, 2, 3, 3.2, 3.2, 3.2, 2.2, 3.2, 2.2, 3],
  [0, 0.5, 1, 2.3, 2.2, 4, 6, 7.2],
  [0, 1, 2.2, 4, 4.2, 5.7, 5.7, 5.7, 6.3, 7.4, 8],
  [0, 1.2, 2.1, 3.1, 4.1, 4.7, 5.2, 6.3, 5.4, 6.2],
  [N, 0, 1.5, 3, 4.2, 4.7, 5.8, 6.6, 8.4],
  [0, 1.4, 3.5, 3.8, 4.2, 5.6, 6.8, 6.0],
];

const AXIS = '#262626';
const BLUE = '#0000ff';
const RED = '#ff0000';
const SANS = '"Liberation Sans", Arial, Helvetica, sans-serif';

type Panel = {
  traj: S[];
  mean: S;
  caption: string;
  L: number;
  T: number;
  R: number;
  B: number;
  capX: number;
  capY: number;
};

const panels: Panel[] = [
  { traj: trajA, mean: meanA, caption: captions[0], L: 41, T: 11, R: 373.5, B: 272.5, capX: 198, capY: 334 },
  { traj: trajB, mean: meanB, caption: captions[1], L: 486, T: 11, R: 818, B: 272.5, capX: 644, capY: 334 },
  { traj: trajC, mean: meanC, caption: captions[2], L: 938, T: 11, R: 1271, B: 272.5, capX: 1095, capY: 334 },
  { traj: trajD, mean: meanD, caption: captions[3], L: 44, T: 375, R: 377, B: 636, capX: 202, capY: 697 },
  { traj: trajE, mean: meanE, caption: captions[4], L: 489, T: 375, R: 822, B: 636, capX: 647, capY: 697 },
  { traj: trajF, mean: meanF, caption: captions[5], L: 934.3, T: 375, R: 1267.3, B: 636, capX: 1092, capY: 697 },
];

function buildRows(traj: S[], mean: S) {
  return steps.map((s, i) => {
    const row: Record<string, number | null> = { step: s, mean: mean[i] ?? null };
    traj.forEach((t, j) => {
      row['t' + j] = t[i] ?? null;
    });
    return row;
  });
}

const XTick = (props: any) => {
  const { x, y, payload } = props;
  return (
    <g>
      <line x1={x} y1={y} x2={x} y2={y - 3.5} stroke={AXIS} strokeWidth={1} />
      <text x={x} y={y + 9} textAnchor="middle" dominantBaseline="central" fontSize={10} fontFamily={SANS} fill={AXIS}>
        {payload.value}
      </text>
    </g>
  );
};

const YTick = (props: any) => {
  const { x, y, payload } = props;
  return (
    <g>
      <line x1={x} y1={y} x2={x + 3.5} y2={y} stroke={AXIS} strokeWidth={1} />
      <text x={x - 5} y={y} textAnchor="end" dominantBaseline="central" fontSize={10} fontFamily={SANS} fill={AXIS}>
        {payload.value}
      </text>
    </g>
  );
};

const LegendBox = () => (
  <div
    style={{
      width: 120,
      height: 30,
      border: `1px solid ${AXIS}`,
      background: '#fff',
      fontFamily: SANS,
      fontSize: 10,
      color: AXIS,
      boxSizing: 'content-box',
      position: 'relative',
    }}
  >
    {legendLabels.map((lab, i) => (
      <div key={lab} style={{ position: 'absolute', left: 6, top: 3 + i * 14.5, height: 12, display: 'flex', alignItems: 'center' }}>
        <div style={{ width: 31, height: i === 0 ? 1 : 2, background: i === 0 ? BLUE : RED }} />
        <span style={{ marginLeft: 4, whiteSpace: 'nowrap', lineHeight: '12px' }}>{lab}</span>
      </div>
    ))}
  </div>
);

const PanelChart = ({ p }: { p: Panel }) => {
  const plotW = p.R - p.L;
  const plotH = p.B - p.T;
  const width = plotW + 50;
  const height = plotH + 50;
  const rows = buildRows(p.traj, p.mean);
  return (
    <div style={{ position: 'absolute', left: p.L - 40, top: p.T - 10, width, height }}>
      <LineChart width={width} height={height} data={rows} margin={{ top: 10, right: 10, bottom: 0, left: 0 }}>
        <XAxis
          dataKey="step"
          type="number"
          domain={[1, 20]}
          ticks={xTicks}
          height={40}
          tickSize={0}
          tickMargin={0}
          tickLine={false}
          tick={<XTick />}
          axisLine={{ stroke: AXIS, strokeWidth: 1 }}
          allowDataOverflow
          label={{ value: xLabel, position: 'insideBottom', offset: 15, fill: AXIS, fontSize: 10, fontFamily: SANS }}
        />
        <YAxis
          type="number"
          domain={[0, 20]}
          ticks={yTicks}
          width={40}
          tickSize={0}
          tickMargin={0}
          tickLine={false}
          tick={<YTick />}
          axisLine={{ stroke: AXIS, strokeWidth: 1 }}
          allowDataOverflow
          label={{
            value: yLabel,
            angle: -90,
            position: 'insideLeft',
            offset: 13,
            fill: AXIS,
            fontSize: 10,
            fontFamily: SANS,
            style: { textAnchor: 'middle' },
          }}
        />
        <Legend
          layout="horizontal"
          verticalAlign="middle"
          align="center"
          content={() => <LegendBox />}
          wrapperStyle={{ left: 40 + plotW - 3 - 122, top: 15, width: 122, height: 32 }}
        />
        {p.traj.map((_, j) => (
          <Line
            key={'t' + j}
            dataKey={'t' + j}
            type="linear"
            stroke={BLUE}
            strokeWidth={0.8}
            dot={false}
            activeDot={false}
            isAnimationActive={false}
            connectNulls={false}
            legendType="none"
          />
        ))}
        <Line
          dataKey="mean"
          type="linear"
          stroke={RED}
          strokeWidth={2}
          dot={false}
          activeDot={false}
          isAnimationActive={false}
          connectNulls={false}
        />
      </LineChart>
    </div>
  );
};

export default function App() {
  return (
    <div style={{ position: 'absolute', left: 0, top: 0, width: 1286, height: 709, background: '#fff', overflow: 'hidden' }}>
      {panels.map((p) => (
        <React.Fragment key={p.caption}>
          <PanelChart p={p} />
          <div
            style={{
              position: 'absolute',
              left: p.capX,
              top: p.capY - 11,
              height: 22,
              lineHeight: '22px',
              whiteSpace: 'nowrap',
              fontFamily: '"Liberation Serif", "Times New Roman", serif',
              fontSize: 18,
              color: '#000',
              transform: 'translateX(-50%) scaleX(1.35)',
            }}
          >
            {p.caption}
          </div>
        </React.Fragment>
      ))}
    </div>
  );
}
